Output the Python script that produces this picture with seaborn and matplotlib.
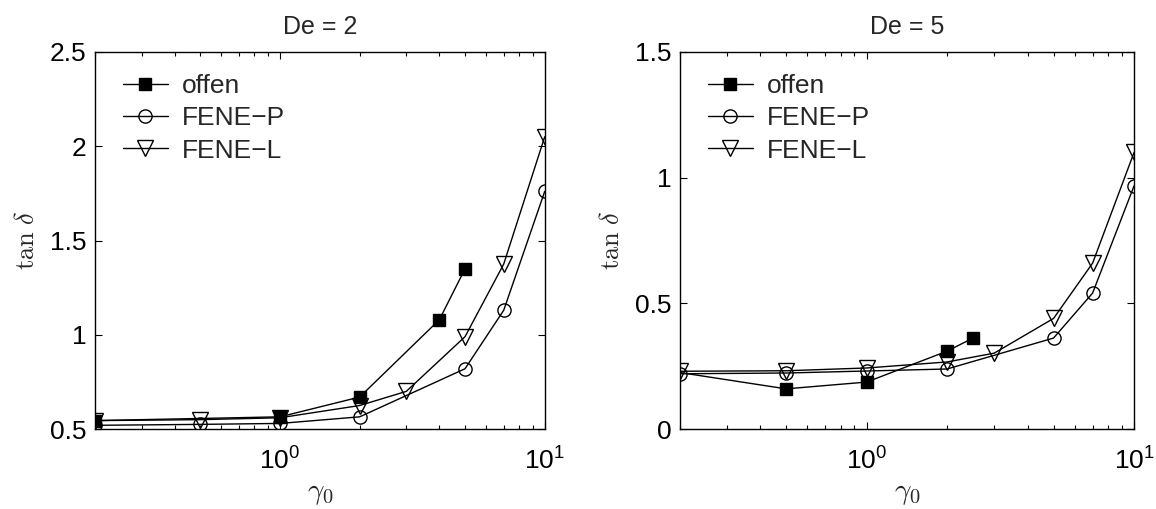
import numpy as np
import pandas as pd
import matplotlib
matplotlib.use("Agg")
import matplotlib.pyplot as plt
import matplotlib.ticker as mticker
import seaborn as sns

# --- data: loss tangent vs. strain amplitude ---
series_names = ["offen", "FENE\u2212P", "FENE\u2212L"]

# De = 2
de2_offen_x = [0.2, 1, 2, 4, 5]
de2_offen_y = [0.545, 0.565, 0.67, 1.08, 1.35]
de2_fenep_x = [0.2, 0.5, 1, 2, 5, 7, 10]
de2_fenep_y = [0.52, 0.525, 0.53, 0.565, 0.82, 1.13, 1.76]
de2_fenel_x = [0.2, 0.5, 1, 2, 3, 5, 7, 10]
de2_fenel_y = [0.545, 0.55, 0.56, 0.625, 0.70, 0.99, 1.375, 2.05]

# De = 5
de5_offen_x = [0.2, 0.5, 1, 2, 2.5]
de5_offen_y = [0.225, 0.16, 0.187, 0.31, 0.362]
de5_fenep_x = [0.2, 0.5, 1, 2, 5, 7, 10]
de5_fenep_y = [0.22, 0.223, 0.231, 0.239, 0.362, 0.541, 0.967]
de5_fenel_x = [0.2, 0.5, 1, 2, 3, 5, 7, 10]
de5_fenel_y = [0.23, 0.232, 0.243, 0.267, 0.302, 0.44, 0.66, 1.10]

titles = ["De = 2", "De = 5"]
y_ticks_left = [0.5, 1, 1.5, 2, 2.5]
y_ticks_right = [0, 0.5, 1, 1.5]

sns.set_theme(style="ticks")
plt.rcParams["font.family"] = ["Liberation Sans", "DejaVu Sans"]
plt.rcParams["mathtext.fontset"] = "cm"
plt.rcParams["xtick.direction"] = "in"
plt.rcParams["ytick.direction"] = "in"


def frame(x, y, name):
    return pd.DataFrame({"gamma": x, "tand": y, "series": name})


panels = [
    pd.concat([frame(de2_offen_x, de2_offen_y, series_names[0]),
               frame(de2_fenep_x, de2_fenep_y, series_names[1]),
               frame(de2_fenel_x, de2_fenel_y, series_names[2])]),
    pd.concat([frame(de5_offen_x, de5_offen_y, series_names[0]),
               frame(de5_fenep_x, de5_fenep_y, series_names[1]),
               frame(de5_fenel_x, de5_fenel_y, series_names[2])]),
]

marker_style = {
    series_names[0]: dict(marker="s", markersize=8.5, markerfacecolor="black"),
    series_names[1]: dict(marker="o", markersize=9.5, markerfacecolor="none"),
    series_names[2]: dict(marker="v", markersize=11, markerfacecolor="none"),
}

fig = plt.figure(figsize=(11.56, 5.09), dpi=100)
axes = [fig.add_axes([0.0822, 0.157, 0.389, 0.741]),
        fig.add_axes([0.588, 0.157, 0.393, 0.741])]
ylims = [(0.5, 2.5), (0, 1.5)]
yticks = [y_ticks_left, y_ticks_right]

for ax, df, title, ylim, yt in zip(axes, panels, titles, ylims, yticks):
    for name in series_names:
        sub = df[df["series"] == name]
        sns.lineplot(data=sub, x="gamma", y="tand", ax=ax, color="black",
                     linewidth=1.0, markeredgecolor="black",
                     markeredgewidth=1.0, label=name, sort=False,
                     estimator=None, **marker_style[name])
    ax.set_xscale("log")
    ax.set_xlim(0.2, 10)
    ax.set_ylim(*ylim)
    ax.set_yticks(yt)
    ax.yaxis.set_major_formatter(mticker.FuncFormatter(lambda v, p: f"{v:g}"))
    ax.xaxis.set_major_locator(mticker.FixedLocator([1, 10]))
    ax.xaxis.set_minor_locator(mticker.LogLocator(base=10, subs=np.arange(2, 10)))
    ax.xaxis.set_minor_formatter(mticker.NullFormatter())
    ax.tick_params(which="both", top=True, right=True, direction="in",
                   labelsize=19, colors="black")
    ax.tick_params(axis="y", which="major", length=5, width=0.8, pad=6)
    ax.tick_params(axis="x", which="major", length=5, width=0.8, pad=13)
    ax.tick_params(which="minor", length=3, width=0.8)
    for sp in ax.spines.values():
        sp.set_color("black")
        sp.set_linewidth(1.0)
    ax.set_title(title, fontsize=18, pad=13)
    ax.set_xlabel(r"$\gamma_0$", fontsize=21, labelpad=3)
    ax.set_ylabel(r"$\tan\,\delta$", fontsize=19, labelpad=8)
    ax.legend(loc="upper left", frameon=False, fontsize=19,
              handlelength=1.7, handletextpad=0.55, labelspacing=0.32,
              borderpad=0, borderaxespad=0,
              bbox_to_anchor=(0.062, 0.942))

# at De = 5 the measured series starts from the shared low-strain value
# without its own symbol
offen_line_de5 = axes[1].lines[0]
offen_line_de5.set_markevery(list(range(1, len(de5_offen_x))))

fig.savefig("out.png", dpi=100, facecolor="white")
